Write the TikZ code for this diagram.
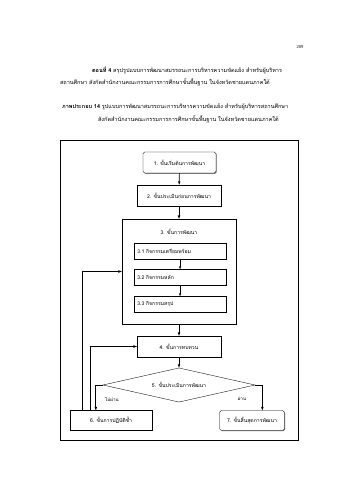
\documentclass[tikz,border=0pt]{standalone}
\usepackage{fontspec}
\setmainfont{Liberation Serif}
\newfontfamily\thai[Script=Thai]{Loma}
\usetikzlibrary{shapes.geometric,shadows,calc}
\tikzset{
  box/.style={draw, fill=white, line width=0.6pt, inner sep=1pt,
    drop shadow={shadow xshift=1.3pt, shadow yshift=-1.3pt, fill=black!55, opacity=1},
    font=\thai\fontsize{9}{10}\selectfont},
  rbox/.style={box, rounded corners=3pt},
  arr/.style={-latex, line width=1.1pt},
  txt/.style={inner sep=0pt, font=\thai\fontsize{9.7}{11}\selectfont}
}
\begin{document}
\begin{tikzpicture}[x=1.755pt, y=-1.755pt]
\useasboundingbox (0,0) rectangle (339,480);

\node[inner sep=0pt, font=\fontsize{8}{9}\selectfont] (page) at (300,47) {209};
\node[txt, anchor=west] (par1) at (92,70) {\textbf{ตอนที่ 4} สรุปรูปแบบการพัฒนาสมรรถนะการบริหารความขัดแย้ง สำหรับผู้บริหาร};
\node[txt, anchor=west] (par2) at (60,82) {สถานศึกษา สังกัดสำนักงานคณะกรรมการการศึกษาขั้นพื้นฐาน ในจังหวัดชายแดนภาคใต้};
\node[txt, anchor=west] (cap1) at (62,107) {\textbf{ภาพประกอบ 14} รูปแบบการพัฒนาสมรรถนะการบริหารความขัดแย้ง สำหรับผู้บริหารสถานศึกษา};
\node[txt, anchor=west] (cap2) at (98,119) {สังกัดสำนักงานคณะกรรมการการศึกษาขั้นพื้นฐาน ในจังหวัดชายแดนภาคใต้};

\draw[line width=1.3pt] (60,140) rectangle (298,440);

\node[rbox, minimum width=128pt, minimum height=37pt] (s1) at (179.5,162.5) {1. ขั้นเริ่มต้นการพัฒนา};
\node[box, minimum width=147pt, minimum height=37pt] (s2) at (179,195.5) {2. ขั้นประเมินก่อนการพัฒนา};
\node[draw, fill=white, line width=0.6pt, minimum width=200pt, minimum height=184pt] (s3) at (179,271.5) {};
\node[inner sep=0pt, font=\thai\fontsize{9}{10}\selectfont] (s3t) at (179,232) {3. ขั้นการพัฒนา};
\node[box, minimum width=161pt, minimum height=28pt, anchor=west, text width=150pt] (s31) at (134,251) {3.1 กิจกรรมเตรียมพร้อม};
\node[box, minimum width=161pt, minimum height=28pt, anchor=west, text width=150pt] (s32) at (134,277.5) {3.2 กิจกรรมหลัก};
\node[box, minimum width=161pt, minimum height=28pt, anchor=west, text width=150pt] (s33) at (134,304.5) {3.3 กิจกรรมสรุป};
\node[box, minimum width=147pt, minimum height=37pt] (s4) at (179,346.5) {4. ขั้นการทบทวน};
\node[diamond, draw, line width=0.6pt, aspect=4.5, inner sep=0pt, minimum width=267pt, minimum height=60pt,
  font=\thai\fontsize{9}{10}\selectfont] (s5) at (179,385) {5. ขั้นประเมินการพัฒนา};
\node[box, minimum width=144pt, minimum height=35pt] (s6) at (111,420.5) {6. ขั้นการปฏิบัติซ้ำ};
\node[rbox, minimum width=114pt, minimum height=35pt] (s7) at (252,420.5) {7. ขั้นสิ้นสุดการพัฒนา};

\node[inner sep=0pt, font=\thai\fontsize{8}{9}\selectfont] (no) at (112,399) {ไม่ผ่าน};
\node[inner sep=0pt, font=\thai\fontsize{8}{9}\selectfont] (yes) at (242,399) {ผ่าน};

\draw[arr] (s1) -- (s2);
\draw[arr] (s2) -- (s3);
\draw[-latex, line width=0.8pt] (s31) -- (s32);
\draw[-latex, line width=0.8pt] (s32) -- (s33);
\draw[arr] (s3) -- (s4);
\draw[arr] (s4) -- (s5);
\draw[arr] (s5.west) -| ($(s6.north west)+(26,0)$);
\draw[arr] (s5.east) -| ($(s7.north west)+(43,0)$);
\draw[arr] ($(s6.north west)+(21,0)$) |- (s4.west);
\draw[arr] ($(s6.north west)+(13,0)$) |- (s3.west);
\end{tikzpicture}
\end{document}
